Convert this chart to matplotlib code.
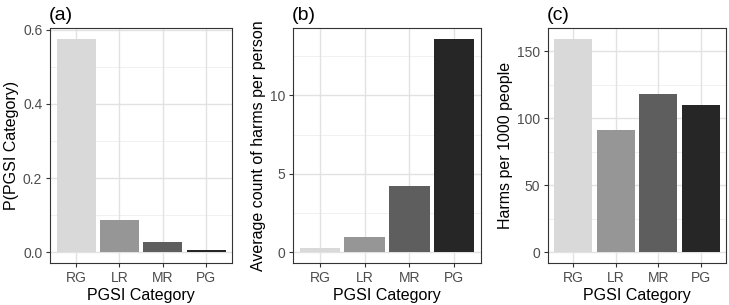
import matplotlib
matplotlib.use('Agg')
import matplotlib.pyplot as plt
import numpy as np

plt.rcParams['font.family'] = ['Liberation Sans', 'DejaVu Sans']

# Data
categories = ['RG', 'LR', 'MR', 'PG']
p_category = [0.576, 0.088, 0.027, 0.007]
avg_harms = [0.25, 1.0, 4.2, 13.6]
harms_per_1000 = [159.5, 91.3, 118.2, 110.2]
bar_colors = ['#d9d9d9', '#969696', '#5e5e5e', '#262626']

panels = [
    ('(a)', p_category, 'P(PGSI Category)', [0.0, 0.2, 0.4, 0.6], ['0.0', '0.2', '0.4', '0.6']),
    ('(b)', avg_harms, 'Average count of harms per person', [0, 5, 10], ['0', '5', '10']),
    ('(c)', harms_per_1000, 'Harms per 1000 people', [0, 50, 100, 150], ['0', '50', '100', '150']),
]
# axes boxes in figure fractions
boxes = [
    [0.0686, 0.1377, 0.2497, 0.7705],
    [0.4019, 0.1377, 0.2579, 0.7705],
    [0.7517, 0.1377, 0.2442, 0.7705],
]

fig = plt.figure(figsize=(7.29, 3.05), dpi=100)

for (tag, vals, ylab, yt, ytl), box in zip(panels, boxes):
    ax = fig.add_axes(box)
    x = np.arange(len(categories))
    top = max(vals)
    pad = top * 0.05
    ax.set_ylim(-pad, top + pad)
    ax.set_xlim(-0.6, len(categories) - 0.4)

    # theme_bw style grid
    step = yt[1] - yt[0]
    minor = np.arange(yt[0] + step / 2, top + pad, step)
    for m in minor:
        ax.axhline(m, color='#eeeeee', lw=0.6, zorder=0)
    for t in yt:
        ax.axhline(t, color='#e2e2e2', lw=1.0, zorder=0)
    for xi in x:
        ax.axvline(xi, color='#e2e2e2', lw=1.0, zorder=0)

    ax.bar(x, vals, width=0.9, color=bar_colors, zorder=2)

    ax.set_xticks(x)
    ax.set_xticklabels(categories)
    ax.set_yticks(yt)
    ax.set_yticklabels(ytl)
    ax.tick_params(axis='both', colors='#333333', labelcolor='#4d4d4d',
                   labelsize=10, length=3, width=0.8, pad=2.5)
    for s in ax.spines.values():
        s.set_color('#333333')
        s.set_linewidth(0.8)

    ax.set_xlabel('PGSI Category', fontsize=11.5, labelpad=2.5)
    ax.set_ylabel(ylab, fontsize=11.5, labelpad=3)
    ax.set_title(tag, loc='left', fontsize=14, pad=6, x=-0.005)

fig.savefig('out.png', dpi=100)
